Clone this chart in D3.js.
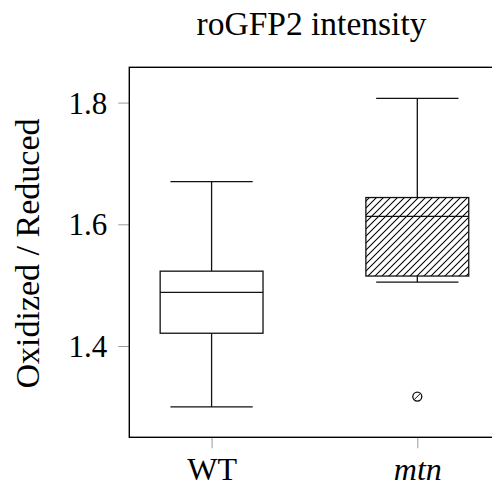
<!DOCTYPE html>
<html>
<head>
<meta charset="utf-8">
<script src="https://cdn.jsdelivr.net/npm/d3@7"></script>
<style>
  html, body { margin: 0; padding: 0; background: #fff; }
  svg { display: block; }
  text { font-family: "Liberation Serif", "DejaVu Serif", serif; fill: #000; }
</style>
</head>
<body>
<svg id="chart" width="492" height="487"></svg>
<script>
// ---- data ----
const categories = ["WT", "mtn"];
const lowerWhisker = [1.300, 1.505];
const lowerQuartile = [1.421, 1.515];
const median = [1.488, 1.613];
const upperQuartile = [1.523, 1.644];
const upperWhisker = [1.670, 1.807];
const outliers = [[], [1.317]];
const yTicks = [1.4, 1.6, 1.8];
const title = "roGFP2 intensity";
const yLabel = "Oxidized / Reduced";

// ---- layout ----
const svg = d3.select("#chart");
const mLeft = 129.3, mTop = 67.3, mBottom = 437.3, mRight = 499.6;

const x = d3.scaleLinear().domain([0.6, 2.4]).range([mLeft, mRight]);
const y = d3.scaleLinear().domain([1.25, 1.858]).range([mBottom, mTop]);

// hatch pattern
const hs = 7;
const defs = svg.append("defs");
const pat = defs.append("pattern")
  .attr("id", "hatch").attr("patternUnits", "userSpaceOnUse")
  .attr("width", hs).attr("height", hs);
pat.append("path").attr("d", `M-1,1 L1,-1 M0,${hs} L${hs},0 M${hs - 1},${hs + 1} L${hs + 1},${hs - 1}`)
  .attr("stroke", "#000").attr("stroke-width", 1.05);

// ticks (grey, outside)
const yAxis = d3.axisLeft(y).tickValues(yTicks).tickSize(11).tickPadding(11)
  .tickFormat(d3.format(".1f"));
const gy = svg.append("g").attr("transform", `translate(${mLeft},0)`).call(yAxis);
gy.select(".domain").remove();
gy.selectAll(".tick line").attr("stroke", "#9a9a9a").attr("stroke-width", 1);
gy.selectAll(".tick text").style("font-size", "31px").attr("dy", "0.34em").attr("fill", "#000");

const xAxis = d3.axisBottom(x).tickValues([1, 2]).tickSize(11).tickPadding(10)
  .tickFormat((d, i) => categories[i]);
const gx = svg.append("g").attr("transform", `translate(0,${mBottom})`).call(xAxis);
gx.select(".domain").remove();
gx.selectAll(".tick line").attr("stroke", "#9a9a9a").attr("stroke-width", 1);
gx.selectAll(".tick text").style("font-size", "32px").attr("y", 0).attr("dy", "42.5px").attr("fill", "#000")
  .style("font-style", (d, i) => i === 1 ? "italic" : "normal");

// boxes
const boxW = 0.5, capW = 0.4;
const g = svg.append("g").attr("fill", "none").attr("stroke", "#111").attr("stroke-width", 1.3);
categories.forEach((c, i) => {
  const pos = i + 1;
  g.append("line").attr("x1", x(pos)).attr("x2", x(pos))
    .attr("y1", y(upperQuartile[i])).attr("y2", y(upperWhisker[i]));
  g.append("line").attr("x1", x(pos)).attr("x2", x(pos))
    .attr("y1", y(lowerQuartile[i])).attr("y2", y(lowerWhisker[i]));
  g.append("line").attr("x1", x(pos - capW / 2)).attr("x2", x(pos + capW / 2))
    .attr("y1", y(upperWhisker[i])).attr("y2", y(upperWhisker[i]));
  g.append("line").attr("x1", x(pos - capW / 2)).attr("x2", x(pos + capW / 2))
    .attr("y1", y(lowerWhisker[i])).attr("y2", y(lowerWhisker[i]));
  g.append("rect").attr("x", x(pos - boxW / 2)).attr("width", x(pos + boxW / 2) - x(pos - boxW / 2))
    .attr("y", y(upperQuartile[i])).attr("height", y(lowerQuartile[i]) - y(upperQuartile[i]))
    .attr("fill", i === 1 ? "url(#hatch)" : "#fff");
  g.append("line").attr("x1", x(pos - boxW / 2)).attr("x2", x(pos + boxW / 2))
    .attr("y1", y(median[i])).attr("y2", y(median[i]));
  outliers[i].forEach(v => {
    g.append("circle").attr("cx", x(pos)).attr("cy", y(v)).attr("r", 4.5).attr("fill", "#fff");
    g.append("line").attr("x1", x(pos) - 3.2).attr("y1", y(v) + 3.2)
      .attr("x2", x(pos) + 3.2).attr("y2", y(v) - 3.2).attr("stroke-width", 1);
  });
});

// frame
svg.append("rect").attr("x", mLeft).attr("y", mTop).attr("width", mRight - mLeft).attr("height", mBottom - mTop)
  .attr("fill", "none").attr("stroke", "#000").attr("stroke-width", 1.4);

// title
svg.append("text").attr("x", 311.5).attr("y", 35).attr("text-anchor", "middle")
  .style("font-size", "33.5px").text(title);

// y label
svg.append("text").attr("transform", `translate(39,253.5) rotate(-90)`)
  .attr("text-anchor", "middle").style("font-size", "34px").text(yLabel);
</script>
</body>
</html>
